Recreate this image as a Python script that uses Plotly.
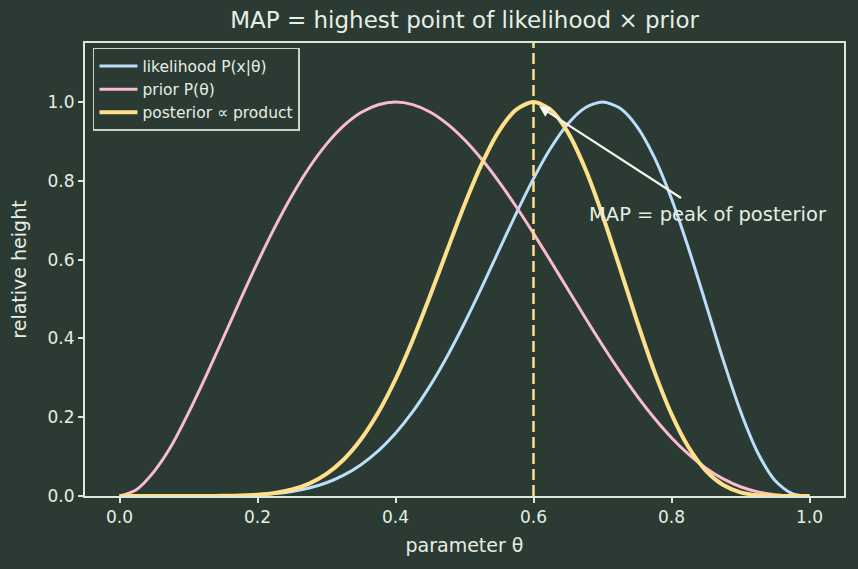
import plotly.graph_objects as go

theta = [0.000, 0.025, 0.050, 0.075, 0.100, 0.125, 0.150, 0.175, 0.200, 0.225,
         0.250, 0.275, 0.300, 0.325, 0.350, 0.375, 0.400, 0.425, 0.450, 0.475,
         0.500, 0.525, 0.550, 0.575, 0.600, 0.625, 0.650, 0.675, 0.700, 0.725,
         0.750, 0.775, 0.800, 0.825, 0.850, 0.875, 0.900, 0.925, 0.950, 0.975, 1.000]
likelihood = [0.0, 0.0, 0.0, 0.0, 0.00003, 0.00014, 0.0005, 0.0013, 0.003, 0.0061,
              0.0116, 0.0204, 0.0337, 0.053, 0.0795, 0.1145, 0.1592, 0.2141, 0.2796, 0.355,
              0.4392, 0.5298, 0.6239, 0.7174, 0.8057, 0.8835, 0.9452, 0.9857, 1.0, 0.9847,
              0.9379, 0.8602, 0.7545, 0.6269, 0.4866, 0.3449, 0.2151, 0.1099, 0.0393, 0.0059, 0.0]
prior = [0.0, 0.0168, 0.062, 0.1267, 0.2109, 0.3029, 0.3998, 0.4976, 0.5926, 0.6819,
         0.7629, 0.8339, 0.8932, 0.94, 0.9734, 0.9934, 1.0, 0.9936, 0.9749, 0.9447,
         0.9042, 0.8547, 0.7976, 0.7344, 0.6667, 0.596, 0.5242, 0.4526, 0.3828, 0.3163,
         0.2543, 0.198, 0.1481, 0.1055, 0.0706, 0.0433, 0.0234, 0.0104, 0.0033, 0.0004, 0.0]
posterior = [0.0, 0.0, 0.0, 0.0, 0.00001, 0.00008, 0.0004, 0.0012, 0.0033, 0.0078,
             0.0165, 0.0316, 0.0561, 0.0927, 0.144, 0.2118, 0.2964, 0.3961, 0.5075, 0.6244,
             0.7394, 0.8431, 0.9265, 0.9809, 1.0, 0.9804, 0.9225, 0.8306, 0.7127, 0.5799,
             0.4441, 0.3171, 0.208, 0.1231, 0.064, 0.0278, 0.0094, 0.0021, 0.0002, 0.0, 0.0]
map_theta = 0.6
x_ticks = [0.0, 0.2, 0.4, 0.6, 0.8, 1.0]
y_ticks = [0.0, 0.2, 0.4, 0.6, 0.8, 1.0]

BG = "#2b3a33"
FG = "#e6eee4"
SPINE = "#dce8da"
C_LIK = "#bbdefb"
C_PRI = "#f8bbd0"
C_POS = "#ffe08a"
FONT = "DejaVu Sans"

fig = go.Figure()
fig.add_trace(go.Scatter(x=theta, y=likelihood, mode="lines", name="likelihood P(x|θ)",
                         line=dict(color=C_LIK, width=3, shape="spline", smoothing=0.8)))
fig.add_trace(go.Scatter(x=theta, y=prior, mode="lines", name="prior P(θ)",
                         line=dict(color=C_PRI, width=3, shape="spline", smoothing=0.8)))
fig.add_trace(go.Scatter(x=theta, y=posterior, mode="lines", name="posterior ∝ product",
                         line=dict(color=C_POS, width=4, shape="spline", smoothing=0.8)))

fig.add_shape(type="line", x0=map_theta, x1=map_theta, y0=0, y1=1, xref="x", yref="paper",
              line=dict(color=C_POS, width=2.5, dash="11px,5px"))

fig.add_annotation(x=0.608, y=0.99, ax=0.816, ay=0.754, axref="x", ayref="y", xref="x", yref="y",
                   text="", showarrow=True, arrowhead=2, arrowsize=1, arrowwidth=2.2,
                   arrowcolor="#f2f5f0")
fig.add_annotation(x=0.678, y=0.714, xref="x", yref="y", text="MAP = peak of posterior",
                   showarrow=False, xanchor="left", yanchor="middle",
                   font=dict(family=FONT, size=19.5, color=FG))

axis_common = dict(showline=True, linecolor=SPINE, linewidth=2, mirror=True, showgrid=False,
                   zeroline=False, ticks="outside", ticklen=5, tickwidth=1.5, tickcolor=SPINE,
                   tickfont=dict(family=FONT, size=17, color=FG), tickformat=".1f")

fig.update_layout(
    width=858, height=569,
    margin=dict(l=85, r=12, t=43, b=73),
    paper_bgcolor=BG, plot_bgcolor=BG,
    font=dict(family=FONT, color=FG),
    title=dict(text="MAP = highest point of likelihood × prior", x=0.5415, xanchor="center",
               y=0.965, yanchor="middle", font=dict(family=FONT, size=23, color=FG)),
    xaxis=dict(range=[-0.05, 1.05], tickvals=x_ticks,
               title=dict(text="parameter θ", font=dict(family=FONT, size=19, color=FG), standoff=12),
               **axis_common),
    yaxis=dict(range=[0, 1.15], tickvals=y_ticks,
               title=dict(text="relative height", font=dict(family=FONT, size=19, color=FG), standoff=16),
               **axis_common),
    legend=dict(x=0.0105, y=0.989, xanchor="left", yanchor="top", bgcolor=BG,
                bordercolor="#c9d6c6", borderwidth=1.5, itemwidth=38,
                font=dict(family=FONT, size=15.5, color=FG), tracegroupgap=0),
    showlegend=True,
)

fig.write_html("out.html")
